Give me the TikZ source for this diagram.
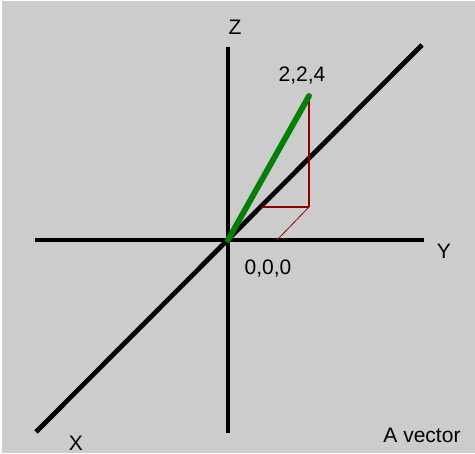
\documentclass[tikz,border=0pt]{standalone}
\usepackage{fontspec}
\setmainfont{Liberation Sans}
\definecolor{bggray}{RGB}{204,204,204}
\definecolor{vecgreen}{RGB}{0,128,0}
\definecolor{projred}{RGB}{140,0,0}
\begin{document}
\begin{tikzpicture}[x=1pt,y=-1pt,
  axis/.style={line width=4.7pt,black,line cap=butt},
  vec/.style={line width=5.8pt,vecgreen,line cap=round},
  proj/.style={line width=1.4pt,projred},
  projthin/.style={line width=0.8pt,projred},
  lbl/.style={font=\fontsize{21}{24}\selectfont,inner sep=0pt,anchor=base}]
\useasboundingbox (0,0) rectangle (475,454);
\fill[white] (0,0) rectangle (475,454);
\fill[bggray] (2,1) rectangle (475,453);
% axis end points
\coordinate (O) at (228,240);
\coordinate (yl) at (35,240);
\coordinate (yr) at (424,240);
\coordinate (zt) at (228,47);
\coordinate (zb) at (228,433);
\coordinate (xl) at (36,432);
\coordinate (xr) at (422,45);
% vector construction points
\coordinate (P) at (309,96);
\coordinate (G) at (309,207);
\coordinate (D) at (262,207);
\coordinate (Yp) at (277,240);
% axes
\draw[axis] (yl) -- (yr);
\draw[axis] (zt) -- (zb);
\draw[axis] (xl) -- (xr);
% projection lines
\draw[proj] (P) -- (G);
\draw[proj] (G) -- (D);
\draw[projthin] (G) -- (Yp);
% vector
\draw[vec] (O) -- (P);
% labels
\node[lbl] (lz) at (235,35) {Z};
\node[lbl] (lp) at (302,82) {2,2,4};
\node[lbl] (ly) at (444,259) {Y};
\node[lbl] (lo) at (268,275) {0,0,0};
\node[lbl] (lx) at (76,451) {X};
\node[lbl] (lt) at (422,443) {A vector};
\end{tikzpicture}
\end{document}
